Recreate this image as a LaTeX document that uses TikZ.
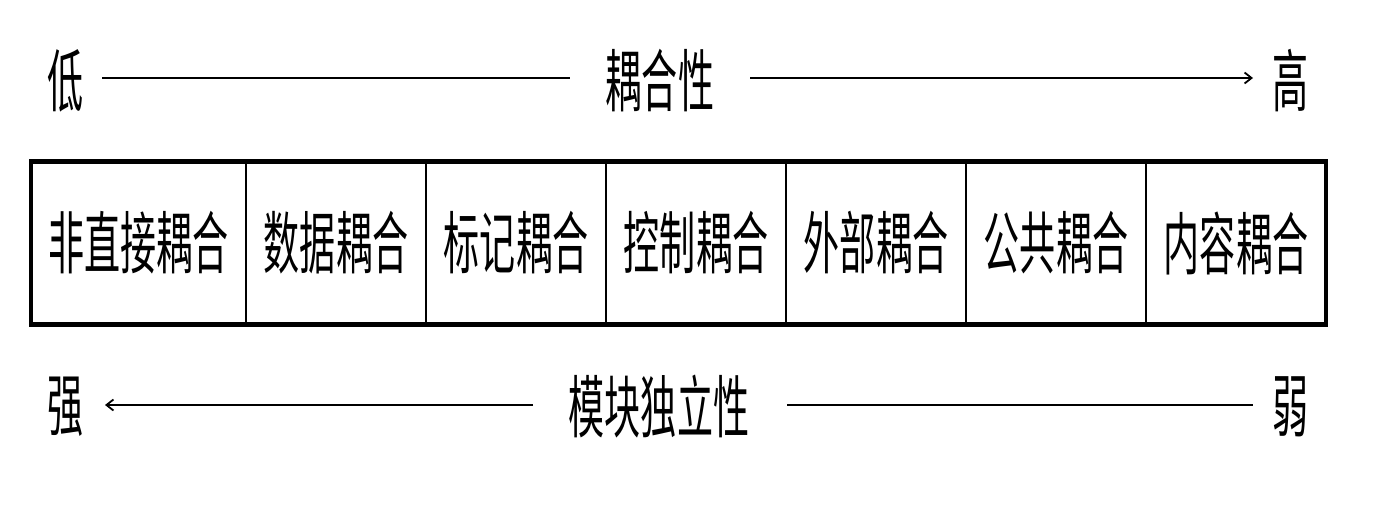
\documentclass[tikz,border=0pt]{standalone}
\usepackage{fontspec}
\newfontfamily\cjk[FakeStretch=0.53]{Noto Sans CJK SC}
\usetikzlibrary{arrows.meta}
\begin{document}
\begin{tikzpicture}[x=1pt,y=-1pt,
  lbl/.style={inner sep=0pt,font=\cjk\fontsize{68}{68}\selectfont},
  cell/.style={draw,line width=2.4pt,minimum width=180pt,minimum height=163pt,inner sep=0pt,outer sep=0pt,anchor=west,font=\cjk\fontsize{68}{68}\selectfont},
  thin/.style={line width=2.4pt},
  arr/.style={line width=2.4pt,-{Straight Barb[length=7pt,width=11pt,line width=1.8pt]}}]
\useasboundingbox (0,0) rectangle (1380,506);
\fill[white] (0,0) rectangle (1380,506);
% top row
\node[lbl] (lo) at (66,81) {低};
\node[lbl] (cp) at (660,81) {耦合性};
\node[lbl] (hi) at (1290,81) {高};
\coordinate (t1) at (102,78);
\coordinate (t2) at (570,78);
\coordinate (t3) at (750,78);
\coordinate (t4) at (1253,78);
\draw[thin] (t1) -- (t2);
\draw[arr] (t3) -- (t4);
% cells
\node[cell,minimum width=215pt] (c1) at (31,243) {非直接耦合};
\node[cell] (c2) at (c1.east) {数据耦合};
\node[cell] (c3) at (c2.east) {标记耦合};
\node[cell] (c4) at (c3.east) {控制耦合};
\node[cell] (c5) at (c4.east) {外部耦合};
\node[cell] (c6) at (c5.east) {公共耦合};
\node[cell] (c7) at (c6.east) {内容耦合};
\draw[line width=4.5pt] (c1.north west) rectangle (c7.south east);
% bottom row
\node[lbl] (st) at (66,407) {强};
\node[lbl] (ind) at (659,407) {模块独立性};
\node[lbl] (wk) at (1290,407) {弱};
\coordinate (b1) at (533,405);
\coordinate (b2) at (105,405);
\coordinate (b3) at (787,405);
\coordinate (b4) at (1253,405);
\draw[arr] (b1) -- (b2);
\draw[thin] (b3) -- (b4);
\end{tikzpicture}
\end{document}
